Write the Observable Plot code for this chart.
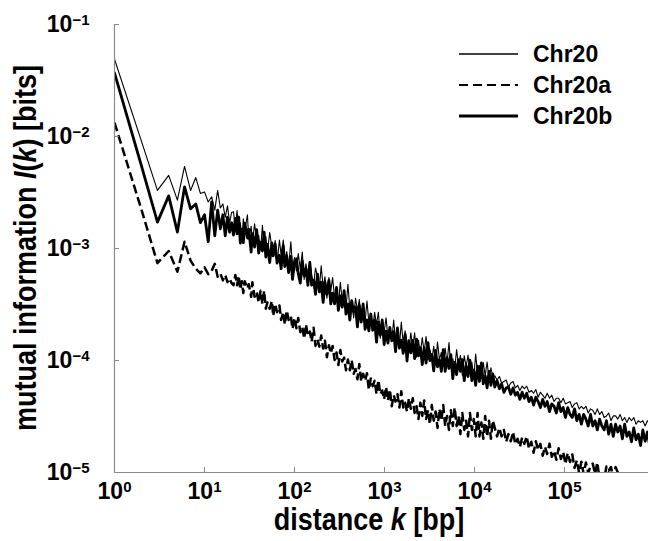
<!DOCTYPE html>
<html><head><meta charset="utf-8">
<script src="https://cdn.jsdelivr.net/npm/d3@7"></script>
<script src="https://cdn.jsdelivr.net/npm/@observablehq/plot@0.6"></script>
<style>body{margin:0;background:#fff;} svg{display:block}</style>
</head><body><div id="chart"></div>
<script>
// distance k [bp]
const kValues = [
  1,2,3,4,5,6,7,8,9,10,11,12,13,14,15,16,17,18,19,20,
  21,22,23,24,25,26,27,28,30,31,33,34,36,38,40,42,44,46,48,50,
  53,56,58,61,64,68,71,75,78,82,86,91,95,100,105,110,116,122,128,134,
  141,148,155,163,171,180,189,198,208,218,229,241,253,265,279,293,307,323,339,356,
  373,392,412,432,454,476,500,525,551,579,608,638,670,704,739,776,815,855,898,943,
  990,1040,1092,1146,1203,1264,1327,1393,1463,1536,1613,1693,1778,1867,1960,2058,2161,2269,2383,2502,
  2627,2758,2896,3041,3193,3353,3520,3696,3881,4075,4279,4493,4717,4953,5201,5461,5734,6021,6322,6638,
  6970,7318,7684,8068,8472,8895,9340,9807,10297,10812,11352,11920,12516,13142,13799,14489,15213,15974,
  16800,17800,18900,20000,21200,22500,23800,25300,26800,28400,
  30100,31900,33800,35800,38000,40300,42700,45300,48000,50900,
  53900,57200,60600,64200,68100,72200,76500,81100,86000,91100,
  96600,102400,108500,115000,121900,129200,137000,145200,153900,163100,
  172900,183300,194300,206000,218300,231400,245300,260000,275600,292100,
  309700,328200,347900,368800,390900,414400,439200,465600,493500,523100,
  554500,587800,623000,660400,700000,742000,786500,833700,883700
];

// mutual information I(k) [bits]
const chr20 = [
  4.9e-2,9.0e-3,3.3e-3,4.5e-3,2.7e-3,5.4e-3,3.3e-3,4.3e-3,3.1e-3,3.2e-3,2.6e-3,2.9e-3,2.2e-3,3.3e-3,2.3e-3,2.5e-3,1.9e-3,2.4e-3,1.7e-3,2.1e-3,
  2.13e-3,1.51e-3,2.18e-3,1.35e-3,1.70e-3,1.21e-3,1.84e-3,1.43e-3,2.0e-3,1.21e-3,
  1.58e-3,1.11e-3,1.66e-3,1.17e-3,1.31e-3,9.7e-4,1.61e-3,1.01e-3,1.28e-3,9.3e-4,
  1.39e-3,1.03e-3,8.8e-4,1.18e-3,7.4e-4,1.19e-3,8.7e-4,1.19e-3,7.9e-4,9.4e-4,
  6.8e-4,1.15e-3,6.9e-4,8.3e-4,6.3e-4,9.0e-4,6.5e-4,9.3e-4,5.3e-4,7.3e-4,
  5.6e-4,7.7e-4,5.8e-4,4.7e-4,6.7e-4,5.6e-4,4.5e-4,7.0e-4,4.5e-4,5.6e-4,
  3.6e-4,5.5e-4,4.2e-4,5.5e-4,3.6e-4,4.3e-4,3.2e-4,5.0e-4,3.4e-4,4.1e-4,
  2.9e-4,4.8e-4,2.9e-4,3.5e-4,2.4e-4,3.6e-4,2.8e-4,3.5e-4,2.2e-4,3.0e-4,
  2.2e-4,3.4e-4,2.2e-4,2.5e-4,1.9e-4,2.7e-4,2.1e-4,2.7e-4,1.58e-4,2.3e-4,
  1.79e-4,2.4e-4,1.6e-4,1.93e-4,1.5e-4,2.3e-4,1.5e-4,1.82e-4,1.32e-4,2.2e-4,
  1.42e-4,1.84e-4,1.46e-4,1.22e-4,1.77e-4,1.31e-4,1.77e-4,1.07e-4,1.52e-4,1.16e-4,
  1.6e-4,1.19e-4,1.64e-4,1.02e-4,1.26e-4,1.0e-4,1.34e-4,9.1e-5,1.46e-4,1.02e-4,
  1.18e-4,8.9e-5,1.29e-4,9.4e-5,1.45e-4,8.8e-5,1.04e-4,8.4e-5,1.25e-4,9.1e-5,
  1.11e-4,7.4e-5,1.1e-4,8.8e-5,1.12e-4,7.8e-5,9.7e-5,7.0e-5,1.14e-4,7.6e-5,
  9.0e-5,6.9e-5,9.6e-5,7.3e-5,9.7e-5,6.8e-5,8.6e-5,7.1e-5,
  7.3e-5,6.7e-5,7.2e-5,6.3e-5,6.5e-5,6.7e-5,5.8e-5,6.3e-5,6.5e-5,5.7e-5,
  6.0e-5,5.4e-5,5.9e-5,5.6e-5,5.9e-5,5.2e-5,5.4e-5,5.1e-5,5.5e-5,4.7e-5,
  5.2e-5,4.9e-5,4.6e-5,5.1e-5,4.6e-5,4.9e-5,4.3e-5,4.6e-5,4.6e-5,4.2e-5,
  4.6e-5,4.1e-5,4.2e-5,4.3e-5,3.8e-5,4.1e-5,4.2e-5,3.7e-5,3.9e-5,3.7e-5,
  3.9e-5,3.4e-5,3.7e-5,3.6e-5,3.3e-5,3.7e-5,3.3e-5,3.5e-5,3.1e-5,3.2e-5,
  3.4e-5,2.9e-5,3.2e-5,3.2e-5,3.0e-5,3.3e-5,2.9e-5,3.1e-5,2.8e-5,3.1e-5,
  2.9e-5,3.1e-5,2.7e-5,2.9e-5,2.8e-5,2.9e-5,2.6e-5,2.9e-5,2.7e-5
];

const chr20a = [
  1.33e-2,2.2e-3,7.4e-4,9.5e-4,6.2e-4,1.15e-3,7.8e-4,6.6e-4,6.0e-4,6.8e-4,5.9e-4,6.3e-4,7.3e-4,5.6e-4,6.0e-4,5.2e-4,5.8e-4,5.0e-4,5.4e-4,4.9e-4,
  4.7e-4,5.8e-4,4.7e-4,5.7e-4,4.3e-4,5.1e-4,4.0e-4,5.1e-4,4.4e-4,4.8e-4,
  3.7e-4,5.0e-4,3.7e-4,4.1e-4,3.3e-4,4.2e-4,3.2e-4,4.2e-4,2.9e-4,3.3e-4,
  2.9e-4,3.4e-4,2.5e-4,3.2e-4,2.7e-4,3.1e-4,2.3e-4,2.7e-4,2.1e-4,2.8e-4,
  2.3e-4,2.5e-4,1.92e-4,2.4e-4,1.94e-4,2.4e-4,1.79e-4,1.99e-4,1.57e-4,2.1e-4,
  1.66e-4,1.81e-4,1.47e-4,1.96e-4,1.35e-4,1.54e-4,1.33e-4,1.67e-4,1.28e-4,1.5e-4,
  1.07e-4,1.37e-4,1.16e-4,1.35e-4,1.01e-4,1.18e-4,9.1e-5,1.24e-4,9.8e-5,1.06e-4,
  8.2e-5,1.02e-4,8.2e-5,1.01e-4,7.6e-5,8.4e-5,6.8e-5,9.3e-5,6.5e-5,7.6e-5,
  6.6e-5,7.7e-5,5.5e-5,6.9e-5,5.9e-5,6.6e-5,5.0e-5,6.7e-5,5.0e-5,5.4e-5,
  4.5e-5,5.8e-5,4.4e-5,5.5e-5,3.9e-5,4.9e-5,4.3e-5,5.0e-5,3.8e-5,5.3e-5,
  3.8e-5,4.2e-5,3.5e-5,4.6e-5,3.7e-5,4.6e-5,3.4e-5,3.9e-5,3.0e-5,4.2e-5,
  3.2e-5,4.4e-5,3.0e-5,3.6e-5,2.7e-5,4.0e-5,2.9e-5,3.5e-5,2.5e-5,3.7e-5,
  2.9e-5,4.0e-5,2.6e-5,3.2e-5,2.4e-5,3.6e-5,2.6e-5,3.8e-5,2.6e-5,3.2e-5,
  2.2e-5,3.4e-5,2.4e-5,2.9e-5,2.1e-5,3.4e-5,2.4e-5,3.0e-5,2.1e-5,3.4e-5,
  2.1e-5,2.8e-5,2.0e-5,3.2e-5,2.1e-5,2.9e-5,2.0e-5,2.9e-5,
  2.5e-5,2.1e-5,2.5e-5,2.1e-5,2.4e-5,1.88e-5,2.2e-5,1.9e-5,2.3e-5,1.79e-5,
  2.0e-5,1.69e-5,2.05e-5,1.8e-5,2.1e-5,1.63e-5,1.88e-5,1.5e-5,1.9e-5,1.59e-5,
  1.8e-5,1.41e-5,1.7e-5,1.46e-5,1.81e-5,1.38e-5,1.56e-5,1.3e-5,1.65e-5,1.32e-5,
  1.53e-5,1.19e-5,1.49e-5,1.24e-5,1.45e-5,1.1e-5,1.28e-5,9.9e-6,1.25e-5,9.7e-6,
  1.23e-5,9.9e-6,1.14e-5,1.2e-5,9.7e-6,1.23e-5,8.7e-6,9.2e-6,8.7e-6,1.13e-5,
  1.04e-5,1.12e-5,8.8e-6,1.12e-5,1.0e-5,8.0e-6,8.1e-6,7.2e-6,7.6e-6,6.5e-6,
  7.0e-6,6.4e-6,6.5e-6,5.8e-6,6.5e-6,5.9e-6,6.0e-6,5.3e-6,5.5e-6
];

const chr20b = [
  3.7e-2,5.4e-3,1.72e-3,2.95e-3,1.4e-3,3.55e-3,2.26e-3,2.5e-3,1.7e-3,2.0e-3,1.15e-3,2.6e-3,1.3e-3,2.2e-3,1.5e-3,2.0e-3,1.3e-3,1.9e-3,1.4e-3,1.7e-3,
  1.32e-3,1.86e-3,1.35e-3,1.91e-3,1.12e-3,1.49e-3,1.13e-3,1.68e-3,1.24e-3,1.49e-3,
  9.3e-4,1.36e-3,1.03e-3,1.47e-3,9.1e-4,1.14e-3,9.5e-4,1.40e-3,8.4e-4,1.09e-3,
  7.5e-4,1.12e-3,8.6e-4,1.10e-3,7.4e-4,8.7e-4,6.6e-4,1.06e-3,6.9e-4,8.6e-4,
  6.1e-4,8.5e-4,5.3e-4,7.4e-4,8.1e-4,6.0e-4,4.9e-4,7.7e-4,5.7e-4,6.6e-4,
  4.7e-4,7.5e-4,4.7e-4,5.2e-4,3.9e-4,5.9e-4,4.1e-4,5.0e-4,3.3e-4,5.0e-4,
  3.9e-4,5.2e-4,3.2e-4,4.0e-4,3.2e-4,4.5e-4,2.8e-4,3.8e-4,3.0e-4,4.2e-4,
  2.6e-4,3.2e-4,2.3e-4,3.4e-4,2.7e-4,3.0e-4,2.0e-4,3.1e-4,2.2e-4,3.2e-4,
  1.9e-4,2.3e-4,1.84e-4,2.6e-4,1.86e-4,2.3e-4,1.46e-4,2.2e-4,1.69e-4,2.3e-4,
  1.39e-4,1.83e-4,1.43e-4,1.97e-4,1.5e-4,1.81e-4,1.2e-4,1.95e-4,1.29e-4,1.52e-4,
  1.16e-4,1.71e-4,9.9e-5,1.5e-4,1.17e-4,1.51e-4,1.04e-4,1.55e-4,1.10e-4,1.30e-4,
  9.2e-5,1.30e-4,9.5e-5,1.44e-4,1.0e-4,1.13e-4,8.1e-5,1.23e-4,8.8e-5,1.02e-4,
  8.0e-5,1.25e-4,8.0e-5,1.06e-4,8.5e-5,1.13e-4,6.9e-5,9.6e-5,7.5e-5,1.02e-4,
  8.0e-5,1.02e-4,6.6e-5,9.0e-5,7.2e-5,1.01e-4,6.6e-5,8.2e-5,6.0e-5,8.9e-5,
  6.5e-5,9.5e-5,6.2e-5,7.3e-5,5.7e-5,8.0e-5,6.0e-5,7.6e-5,
  5.8e-5,6.6e-5,5.6e-5,6.2e-5,5.2e-5,5.7e-5,5.8e-5,5.0e-5,5.7e-5,4.9e-5,
  5.2e-5,4.5e-5,5.2e-5,4.6e-5,5.1e-5,4.3e-5,4.7e-5,4.0e-5,4.7e-5,4.3e-5,
  3.8e-5,4.5e-5,3.9e-5,4.3e-5,3.5e-5,4.1e-5,3.9e-5,3.4e-5,4.2e-5,3.5e-5,
  3.8e-5,3.1e-5,3.8e-5,3.3e-5,3.1e-5,3.7e-5,2.9e-5,3.3e-5,2.7e-5,3.3e-5,
  3.0e-5,2.6e-5,3.3e-5,2.6e-5,2.9e-5,2.4e-5,3.0e-5,2.6e-5,2.4e-5,2.9e-5,
  2.2e-5,2.7e-5,2.1e-5,2.7e-5,2.3e-5,2.6e-5,2.0e-5,2.7e-5,2.1e-5,2.3e-5,
  1.88e-5,2.5e-5,1.96e-5,2.2e-5,1.74e-5,2.4e-5,1.9e-5,2.3e-5,1.73e-5
];

const seriesNames = ["Chr20", "Chr20a", "Chr20b"];
const xTicks = [1, 10, 100, 1000, 10000, 100000];
const xTickExponents = ["0", "1", "2", "3", "4", "5"];
const yTicks = [1e-5, 1e-4, 1e-3, 1e-2, 1e-1];
const yTickExponents = ["\u22125", "\u22124", "\u22123", "\u22122", "\u22121"];
const xDomain = [1, 857000];
const yDomain = [1e-5, 1e-1];

const rows = (vals) => kValues.map((k, i) => ({k, v: vals[i]}));
const FONT = "'Liberation Sans', Arial, Helvetica, sans-serif";
const AXIS = "#8a8a8a";

const chart = Plot.plot({
  width: 648, height: 541,
  marginTop: 24, marginBottom: 69, marginLeft: 114, marginRight: 0,
  style: {fontFamily: FONT, fontWeight: "bold", fontSize: "23px", background: "#fff", color: "#000", overflow: "visible"},
  x: {type: "log", domain: xDomain},
  y: {type: "log", domain: yDomain},
  marks: [
    Plot.line(rows(chr20a), {x: "k", y: "v", stroke: "#000", strokeWidth: 2.5, strokeDasharray: "9,4", strokeLinecap: "butt", clip: true}),
    Plot.line(rows(chr20b), {x: "k", y: "v", stroke: "#000", strokeWidth: 2.8, clip: true}),
    Plot.line(rows(chr20), {x: "k", y: "v", stroke: "#000", strokeWidth: 1.1, clip: true}),
    Plot.ruleX([xDomain[0]], {stroke: AXIS, strokeWidth: 1.2}),
    Plot.ruleY([yDomain[0]], {stroke: AXIS, strokeWidth: 1.2}),
    Plot.tickX(xTicks, {x: d => d, insetTop: 443, stroke: AXIS}),
    Plot.tickY(yTicks, {y: d => d, insetRight: 529, stroke: AXIS}),
    Plot.axisX({ticks: xTicks, tickSize: 0, tickPadding: 10, label: null,
      tickFormat: (d) => "10^" + xTickExponents[xTicks.indexOf(d)]}),
    Plot.axisY({ticks: yTicks, tickSize: 0, tickPadding: 25, label: null,
      tickFormat: (d) => "10^" + yTickExponents[yTicks.indexOf(d)]})
  ]
});
document.getElementById("chart").appendChild(chart);

const svg = d3.select(chart);
// superscript tick labels
svg.selectAll('g[aria-label="x-axis tick label"] text, g[aria-label="y-axis tick label"] text').each(function() {
  const t = d3.select(this);
  const parts = t.text().split("^");
  t.text(null);
  t.append("tspan").text(parts[0]);
  t.append("tspan").attr("dy", "-0.45em").attr("font-size", "15px").text(parts[1]);
});

// axis titles (slightly tall glyphs as in the original)
const xt = svg.append("text").attr("transform", "translate(369,530) scale(1,1.13)")
  .attr("text-anchor", "middle").attr("font-size", "27px").attr("font-family", FONT).attr("font-weight", "bold");
xt.append("tspan").text("distance ");
xt.append("tspan").attr("font-style", "italic").text("k");
xt.append("tspan").text(" [bp]");

const yt = svg.append("text").attr("transform", "translate(36,248) rotate(-90) scale(1,1.13)")
  .attr("text-anchor", "middle").attr("font-size", "27px").attr("font-family", FONT).attr("font-weight", "bold");
yt.append("tspan").text("mutual information ");
yt.append("tspan").attr("font-style", "italic").text("I");
yt.append("tspan").text("(");
yt.append("tspan").attr("font-style", "italic").text("k");
yt.append("tspan").text(") [bits]");

// legend
const legendStyles = [
  {w: 1.3, dash: null},
  {w: 2.2, dash: "9,5"},
  {w: 3.2, dash: null}
];
const legendY = [54, 85, 116];
seriesNames.forEach((name, i) => {
  const g = svg.append("g");
  g.append("line").attr("x1", 459).attr("x2", 518).attr("y1", legendY[i]).attr("y2", legendY[i])
    .attr("stroke", "#000").attr("stroke-width", legendStyles[i].w)
    .attr("stroke-dasharray", legendStyles[i].dash);
  g.append("text").attr("x", 533).attr("y", legendY[i]).attr("dy", "0.36em").attr("text-anchor", "start")
    .attr("font-size", "23px").attr("font-family", FONT).attr("font-weight", "bold").text(name);
});
</script>
</body></html>
